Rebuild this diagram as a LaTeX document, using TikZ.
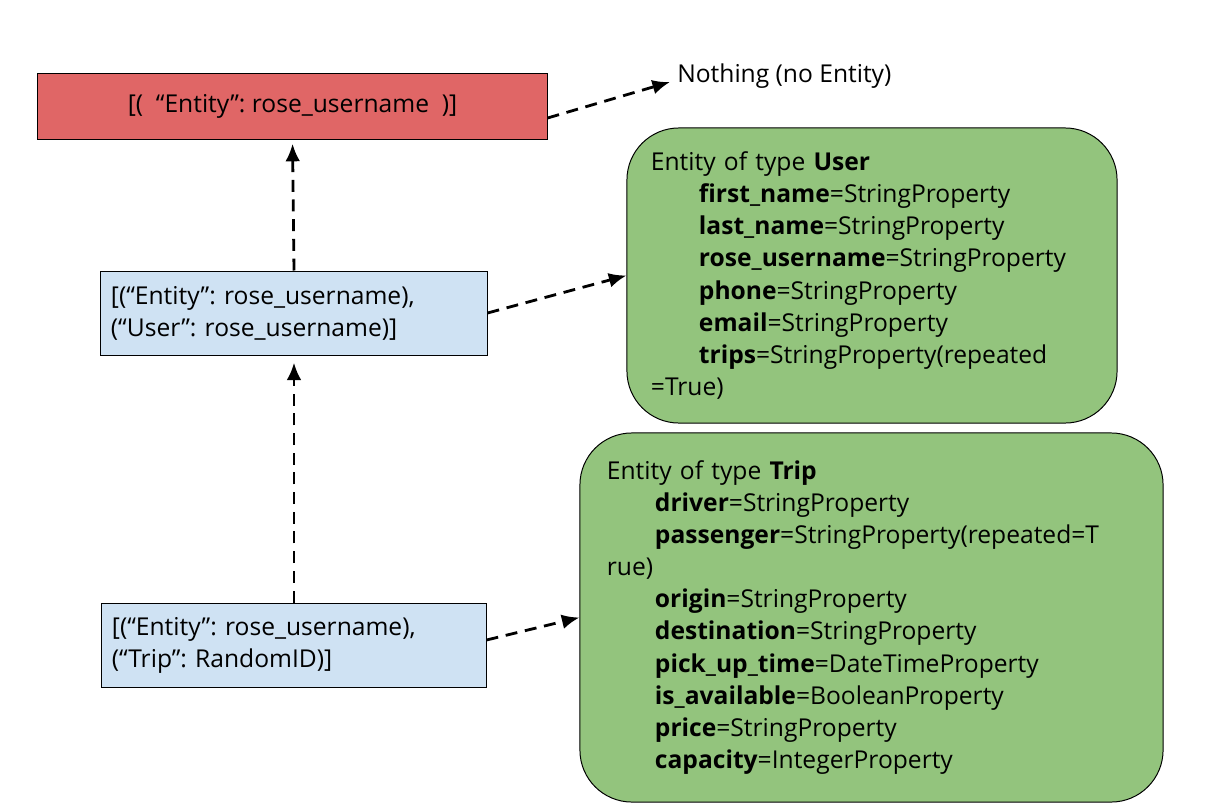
\documentclass[tikz,border=0pt]{standalone}
\usepackage{fontspec}
\setmainfont{Open Sans}
\frenchspacing
\usetikzlibrary{arrows.meta, positioning}
\definecolor{keyred}{HTML}{E06666}
\definecolor{keyblue}{HTML}{CFE2F3}
\definecolor{entgreen}{HTML}{93C47D}
\tikzstyle{txt} = [font=\fontsize{17.5}{22.8}\selectfont]
\tikzstyle{rootbox} = [txt, rectangle, draw=black, line width=0.7pt, fill=keyred, text centered, inner sep=0pt]
\tikzstyle{keybox} = [txt, rectangle, draw=black, line width=0.7pt, fill=keyblue, align=left, inner xsep=0.25cm, inner ysep=0pt]
\tikzstyle{entbox} = [txt, rectangle, rounded corners=1.3cm, draw=black, line width=0.7pt, fill=entgreen, align=left, inner ysep=0pt]
\tikzstyle{arrow} = [line width=2pt, dash pattern=on 8.5pt off 5.5pt, -{Latex[length=12.5pt,width=10.5pt]}]
\newcommand{\ind}{\hspace*{1.2cm}}

\begin{document}
\begin{tikzpicture}[x=0.025cm, y=-0.025cm]
  \useasboundingbox (0,0) rectangle (1208,809);

  \node[rootbox, minimum width=12.725cm, minimum height=1.65cm] (rootkey) at (292.5,106) {[(\ \ “Entity”: rose\_username\ \ )]};
  \node[txt, anchor=west, inner sep=0pt] (nothing) at (677,76) {Nothing (no Entity)};

  \node[keybox, text width=9.15cm, minimum height=2.1cm] (userkey) at (294,313) {[(“Entity”: rose\_username),\\(“User”: rose\_username)]};
  \node[keybox, text width=9.1cm, minimum height=2.1cm] (tripkey) at (294,645) {[(“Entity”: rose\_username),\\(“Trip”: RandomID)]};

  \node[entbox, inner xsep=0.6cm, text width=11.05cm, minimum height=7.375cm] (userent) at (872,275.5) {Entity of type \textbf{User}\\
    \ind\textbf{first\_name}=StringProperty\\
    \ind\textbf{last\_name}=StringProperty\\
    \ind\textbf{rose\_username}=StringProperty\\
    \ind\textbf{phone}=StringProperty\\
    \ind\textbf{email}=StringProperty\\
    \ind\textbf{trips}=StringProperty(repeated\\
    =True)};
  \node[entbox, inner xsep=0.675cm, text width=13.225cm, minimum height=9.225cm] (tripent) at (871.5,617.5) {Entity of type \textbf{Trip}\\
    \ind\textbf{driver}=StringProperty\\
    \ind\textbf{passenger}=StringProperty(repeated=T\\
    rue)\\
    \ind\textbf{origin}=StringProperty\\
    \ind\textbf{destination}=StringProperty\\
    \ind\textbf{pick\_up\_time}=DateTimeProperty\\
    \ind\textbf{is\_available}=BooleanProperty\\
    \ind\textbf{price}=StringProperty\\
    \ind\textbf{capacity}=IntegerProperty};

  \draw[arrow] ([yshift=-0.3cm]rootkey.east) -- ([xshift=-0.175cm,yshift=-0.15cm]nothing.west);
  \draw[arrow, shorten >=3pt] (userkey.north) -- (rootkey.south);
  \draw[arrow, shorten >=5pt] (tripkey.north) -- (userkey.south);
  \draw[arrow] (userkey.east) -- (userent.west);
  \draw[arrow] ([yshift=0.125cm]tripkey.east) -- (tripent.west);

\end{tikzpicture}
\end{document}
